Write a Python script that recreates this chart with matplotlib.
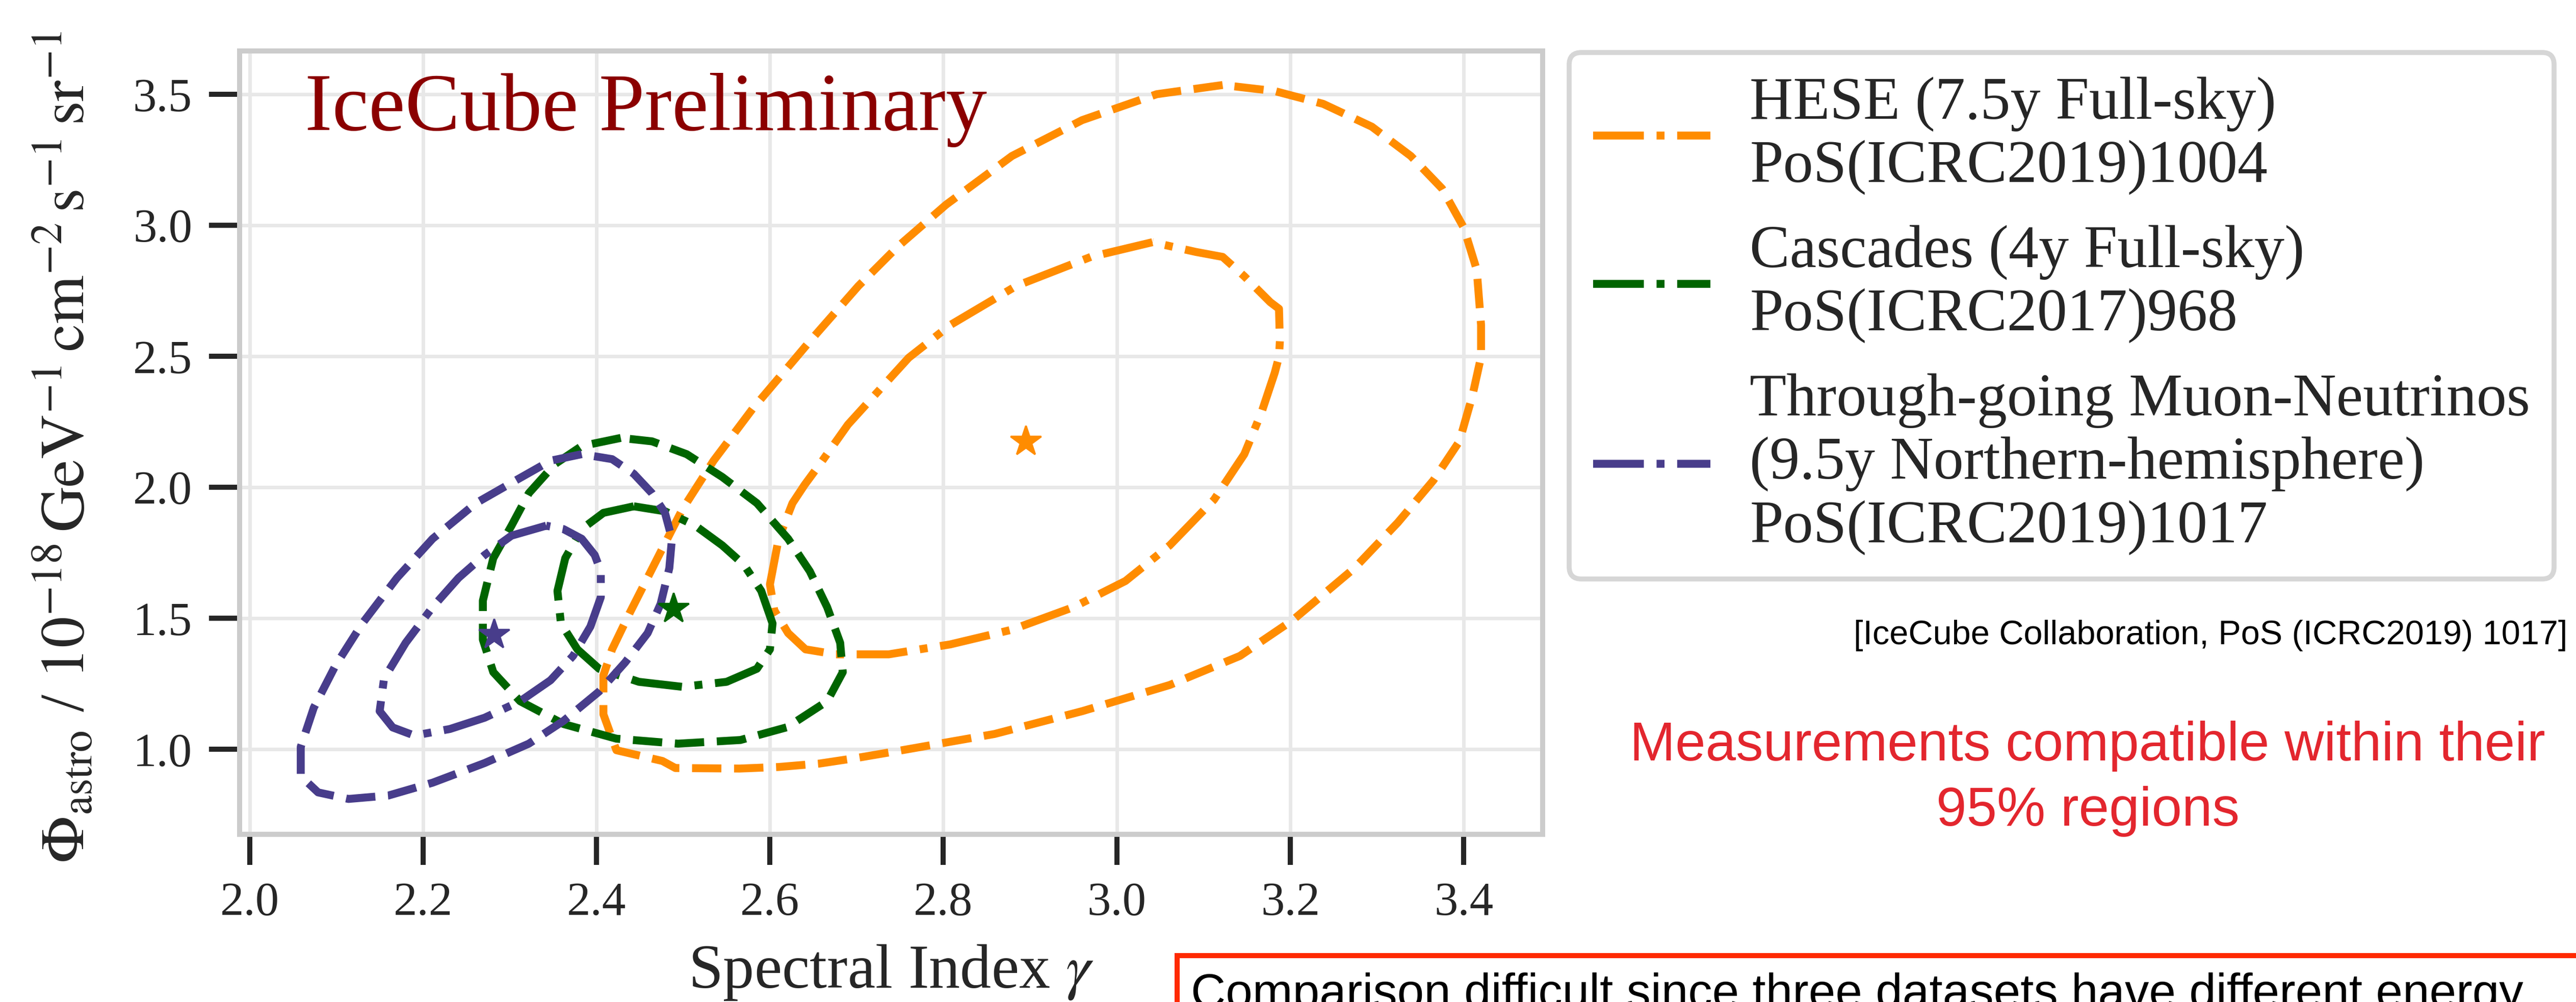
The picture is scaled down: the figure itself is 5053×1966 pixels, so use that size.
import numpy as np
import matplotlib
matplotlib.use("Agg")
import matplotlib.pyplot as plt
from matplotlib.patches import Rectangle

# ---------------- data ----------------
hese_95_gamma = [3.122, 3.046, 2.960, 2.879, 2.803, 2.747, 2.702, 2.646, 2.631, 2.580, 2.535,
                 2.499, 2.474, 2.438, 2.418, 2.408, 2.408, 2.423, 2.476, 2.491, 2.565, 2.610,
                 2.657, 2.701, 2.749, 2.859, 2.960, 3.061, 3.142, 3.203, 3.274, 3.324, 3.365,
                 3.395, 3.410, 3.420, 3.420, 3.415, 3.400, 3.375, 3.339, 3.294, 3.238, 3.182]
hese_95_phi = [3.536, 3.501, 3.402, 3.265, 3.079, 2.918, 2.769, 2.558, 2.499, 2.300, 2.102,
               1.916, 1.754, 1.519, 1.382, 1.283, 1.134, 0.997, 0.956, 0.929, 0.927, 0.933,
               0.946, 0.968, 0.995, 1.059, 1.146, 1.246, 1.357, 1.494, 1.692, 1.866, 2.027,
               2.176, 2.350, 2.499, 2.620, 2.831, 2.992, 3.141, 3.265, 3.377, 3.464, 3.513]

hese_68_gamma = [3.041, 2.970, 2.884, 2.808, 2.760, 2.727, 2.690, 2.660, 2.640, 2.626, 2.610,
                 2.600, 2.605, 2.621, 2.641, 2.676, 2.737, 2.808, 2.879, 2.950, 3.010, 3.061,
                 3.112, 3.147, 3.167, 3.182, 3.187, 3.188, 3.187, 3.177, 3.147, 3.122, 3.091]
hese_68_phi = [2.936, 2.880, 2.769, 2.620, 2.495, 2.375, 2.240, 2.100, 2.010, 1.940, 1.804,
               1.630, 1.531, 1.444, 1.382, 1.363, 1.363, 1.401, 1.457, 1.543, 1.643, 1.779,
               1.953, 2.127, 2.288, 2.437, 2.499, 2.558, 2.682, 2.707, 2.806, 2.880, 2.899]

casc_95_gamma = [2.428, 2.383, 2.352, 2.322, 2.302, 2.281, 2.269, 2.269, 2.281, 2.312, 2.362,
                 2.423, 2.494, 2.566, 2.620, 2.666, 2.684, 2.681, 2.666, 2.646, 2.621, 2.585,
                 2.545, 2.504, 2.464]
casc_95_phi = [2.189, 2.158, 2.089, 1.978, 1.854, 1.730, 1.568, 1.419, 1.295, 1.184, 1.097,
               1.041, 1.022, 1.036, 1.085, 1.184, 1.295, 1.407, 1.543, 1.680, 1.804, 1.940,
               2.040, 2.127, 2.176]

casc_68_gamma = [2.443, 2.408, 2.383, 2.364, 2.355, 2.359, 2.378, 2.403, 2.449, 2.499, 2.550,
                 2.585, 2.600, 2.603, 2.590, 2.570, 2.545, 2.514, 2.479]
casc_68_phi = [1.928, 1.903, 1.841, 1.730, 1.605, 1.481, 1.382, 1.308, 1.258, 1.239, 1.258,
               1.308, 1.382, 1.481, 1.605, 1.705, 1.779, 1.854, 1.909]

numu_95_gamma = [2.383, 2.347, 2.307, 2.261, 2.211, 2.170, 2.130, 2.099, 2.074, 2.059, 2.059,
                 2.079, 2.114, 2.160, 2.211, 2.271, 2.322, 2.362, 2.403, 2.433, 2.459, 2.474,
                 2.484, 2.487, 2.479, 2.464, 2.443, 2.418]
numu_95_phi = [2.127, 2.102, 2.027, 1.940, 1.804, 1.655, 1.481, 1.320, 1.159, 1.010, 0.898,
               0.836, 0.811, 0.824, 0.873, 0.948, 1.022, 1.109, 1.221, 1.332, 1.444, 1.556,
               1.692, 1.804, 1.903, 1.978, 2.052, 2.108]

numu_68_gamma = [2.342, 2.302, 2.271, 2.241, 2.211, 2.180, 2.155, 2.150, 2.165, 2.190, 2.231,
                 2.271, 2.312, 2.347, 2.373, 2.393, 2.405, 2.405, 2.398, 2.383, 2.362]
numu_68_phi = [1.854, 1.816, 1.742, 1.655, 1.543, 1.407, 1.270, 1.146, 1.084, 1.053, 1.078,
               1.121, 1.184, 1.264, 1.357, 1.469, 1.581, 1.680, 1.742, 1.804, 1.841]

best_fit_gamma = [2.895, 2.489, 2.282]
best_fit_phi = [2.175, 1.537, 1.438]

labels = ["HESE (7.5y Full-sky)\nPoS(ICRC2019)1004",
          "Cascades (4y Full-sky)\nPoS(ICRC2017)968",
          "Through-going Muon-Neutrinos\n(9.5y Northern-hemisphere)\nPoS(ICRC2019)1017"]
colors = ["#ff8c00", "#006400", "#483d8b"]

xticks = [2.0, 2.2, 2.4, 2.6, 2.8, 3.0, 3.2, 3.4]
yticks = [1.0, 1.5, 2.0, 2.5, 3.0, 3.5]

# ---------------- styling ----------------
plt.rcParams["font.family"] = ["Liberation Serif", "DejaVu Serif"]
plt.rcParams["mathtext.fontset"] = "stix"

W, H = 5053, 1966
fig = plt.figure(figsize=(W / 100, H / 100), dpi=100)
ax = fig.add_axes([470 / W, 1 - 1637 / H, (3026 - 470) / W, (1637 - 100) / H])

LW = 11.2
sets = [
    (hese_68_gamma, hese_68_phi, hese_95_gamma, hese_95_phi),
    (casc_68_gamma, casc_68_phi, casc_95_gamma, casc_95_phi),
    (numu_68_gamma, numu_68_phi, numu_95_gamma, numu_95_phi),
]
for i, (g68, p68, g95, p95) in enumerate(sets):
    c = colors[i]
    ax.plot(np.append(g95, g95[0]), np.append(p95, p95[0]), ls="--", lw=LW, color=c,
            dash_capstyle="butt", zorder=3)
    ax.plot(np.append(g68, g68[0]), np.append(p68, p68[0]), ls="-.", lw=LW, color=c,
            dash_capstyle="butt", zorder=3, label=labels[i])
    ax.plot([best_fit_gamma[i]], [best_fit_phi[i]], marker="*", ms=45, mew=2.5,
            color=c, ls="none", zorder=4)

ax.set_xlim(1.9885, 3.491)
ax.set_ylim(0.676, 3.666)
ax.set_xticks(xticks)
ax.set_yticks(yticks)
ax.set_xticklabels([f"{v:.1f}" for v in xticks])
ax.set_yticklabels([f"{v:.1f}" for v in yticks])
ax.tick_params(direction="out", length=43, width=7.2, color="#262626", pad=24,
               labelsize=67, labelcolor="#262626")
for s in ax.spines.values():
    s.set_color("#cccccc")
    s.set_linewidth(7.2)
ax.grid(True, color="#e8e8e8", lw=5)
ax.set_axisbelow(True)

ax.set_xlabel(r"Spectral Index $\gamma$", fontsize=88, color="#262626")
ax.xaxis.label.set_va("baseline")
ax.xaxis.set_label_coords(0.5, (1637 - 1938) / (1637 - 100))
ax.set_ylabel(r"$\Phi_{\mathrm{astro}}$ / $10^{-18}\,\mathrm{GeV}^{-1}\,\mathrm{cm}^{-2}\,"
              r"\mathrm{s}^{-1}\,\mathrm{sr}^{-1}$", fontsize=88, color="#262626")
ax.yaxis.label.set_va("baseline")
ax.yaxis.set_label_coords((165 - 470) / (3026 - 470), 0.494)

fig.text(598 / W, 1 - 255 / H, "IceCube Preliminary", fontsize=116, color="#8b0000",
         ha="left", va="baseline")

leg = ax.legend(loc="upper left", bbox_to_anchor=(3078 / W, 1 - 103 / H),
                bbox_transform=fig.transFigure, borderaxespad=0, fontsize=85,
                handlelength=1.95, handletextpad=0.65, labelspacing=0.5)
leg.get_frame().set_linewidth(7)
for t in leg.get_texts():
    t.set_color("#262626")

sans = ["Liberation Sans", "DejaVu Sans"]
fig.text(5036 / W, 1 - 1264 / H, "[IceCube Collaboration, PoS (ICRC2019) 1017]",
         fontsize=48, family=sans, ha="right", va="baseline", color="black")
fig.text(4095 / W, 1 - 1492 / H, "Measurements compatible within their",
         fontsize=77, family=sans, ha="center", va="baseline", color="#e3262e")
fig.text(4095 / W, 1 - 1620 / H, "95% regions",
         fontsize=77, family=sans, ha="center", va="baseline", color="#e3262e")

box = Rectangle((2309 / W, -0.5), 1.0, 0.5 + (1 - 1875 / H), transform=fig.transFigure,
                facecolor="white", edgecolor="#ff2a00", lw=7.2, clip_on=False)
fig.add_artist(box)
fig.text(2336 / W, 1 - 1977 / H,
         "Comparison difficult since three datasets have different energy",
         fontsize=68, family=sans, ha="left", va="baseline", color="black")

fig.savefig("out.png", dpi=100)
